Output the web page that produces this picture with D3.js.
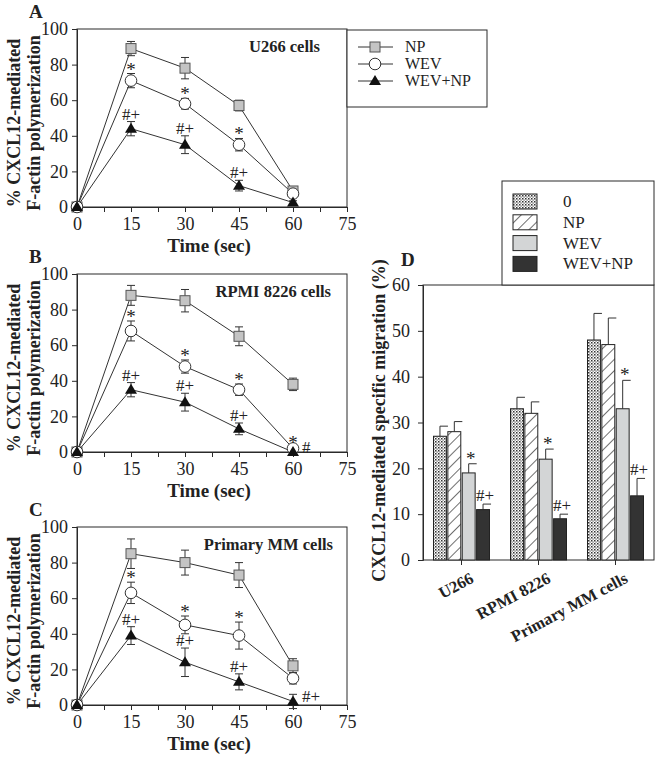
<!DOCTYPE html>
<html><head><meta charset="utf-8">
<script src="https://cdn.jsdelivr.net/npm/d3@7"></script>
<style>
html,body{margin:0;padding:0;background:#fff;}
svg{display:block;font-family:"Liberation Serif","Times New Roman",serif;}
</style></head>
<body>
<svg id="c" width="659" height="759"></svg>
<script>
// ---------- DATA ----------
const times = [0, 15, 30, 45, 60];
const timeTicks = [0, 7.5, 15, 22.5, 30, 37.5, 45, 52.5, 60, 67.5, 75];
const polyTicks = [0, 20, 40, 60, 80, 100];
const lineSeries = ["NP", "WEV", "WEV+NP"];

const u266NP = [0, 89, 78, 57, 9];
const u266NPErr = [0, 4, 6, 3, 2];
const u266WEV = [0, 71, 58, 35, 7.5];
const u266WEVErr = [0, 4, 3, 3.5, 2];
const u266WEVNP = [0, 44, 35, 12, 2.5];
const u266WEVNPErr = [0, 4, 5, 3, 1];

const rpmiNP = [0, 88, 85, 65, 38];
const rpmiNPErr = [0, 5.6, 6.3, 5.3, 3.5];
const rpmiWEV = [0, 68, 48, 35, 2];
const rpmiWEVErr = [0, 5.6, 3.7, 3.2, 1];
const rpmiWEVNP = [0, 35, 28, 13, 0];
const rpmiWEVNPErr = [0, 4, 5, 3.3, 0];

const mmNP = [0, 85, 80, 73, 22];
const mmNPErr = [0, 8.3, 7, 7, 4];
const mmWEV = [0, 63, 45, 39, 15];
const mmWEVErr = [0, 6, 5, 7.6, 3.2];
const mmWEVNP = [0, 39, 24, 13, 2];
const mmWEVNPErr = [0, 5, 8, 4.5, 4];

// significance marks: [seriesIndex, timeIndex, text, position]
const u266Marks = [[1,1,"*","top"],[1,2,"*","top"],[1,3,"*","top"],[2,1,"#+","top"],[2,2,"#+","top"],[2,3,"#+","top"]];
const rpmiMarks = [[1,1,"*","top"],[1,2,"*","top"],[1,3,"*","top"],[1,4,"*","top"],[2,1,"#+","top"],[2,2,"#+","top"],[2,3,"#+","top"],[2,4,"#","right"]];
const mmMarks = [[1,1,"*","top"],[1,2,"*","top"],[1,3,"*","top"],[2,1,"#+","top"],[2,2,"#+","top"],[2,3,"#+","top"],[2,4,"#+","right"]];

const cellLines = ["U266", "RPMI 8226", "Primary MM cells"];
const treatments = ["0", "NP", "WEV", "WEV+NP"];
const migration0 = [27, 33, 48];
const migration0Err = [2.2, 2.5, 5.8];
const migrationNP = [28, 32, 47];
const migrationNPErr = [2.2, 2.5, 5.8];
const migrationWEV = [19, 22, 33];
const migrationWEVErr = [2, 2.2, 6.2];
const migrationWEVNP = [11, 9, 14];
const migrationWEVNPErr = [1.2, 1, 3.8];
const migrationTicks = [0, 10, 20, 30, 40, 50, 60];
const migrationMarks = [[2, "*"], [3, "#+"]];

// ---------- DRAW ----------
const svg = d3.select("#c");
const defs = svg.append("defs");
const dots = defs.append("pattern").attr("id","dots").attr("patternUnits","userSpaceOnUse").attr("width",3).attr("height",3);
dots.append("rect").attr("width",3).attr("height",3).attr("fill","#fff");
dots.append("rect").attr("x",0).attr("y",0).attr("width",1.5).attr("height",1.5).attr("fill","#333");
dots.append("rect").attr("x",1.5).attr("y",1.5).attr("width",1.2).attr("height",1.2).attr("fill","#555");
const hatch = defs.append("pattern").attr("id","hatch").attr("patternUnits","userSpaceOnUse").attr("width",8).attr("height",8)
  .attr("patternTransform","rotate(45)");
hatch.append("rect").attr("width",8).attr("height",8).attr("fill","#fff");
hatch.append("line").attr("x1",0).attr("y1",0).attr("x2",0).attr("y2",8).attr("stroke","#222").attr("stroke-width",1.3);

const ink = "#2a2a2a";
const txt = "#222";

function styleAxis(g){
  g.selectAll("path").attr("stroke", ink).attr("stroke-width",1);
  g.selectAll("line").attr("stroke", ink).attr("stroke-width",1);
  g.selectAll("text").attr("fill",txt).style("font-family","'Liberation Serif',serif");
}

const markerDraw = {
  "NP": (g,x,y)=> g.append("rect").attr("x",x-5).attr("y",y-5).attr("width",10).attr("height",10).attr("fill","#c4c4c4").attr("stroke","#555").attr("stroke-width",1),
  "WEV": (g,x,y)=> g.append("circle").attr("cx",x).attr("cy",y).attr("r",5.8).attr("fill","#fff").attr("stroke","#333").attr("stroke-width",1),
  "WEV+NP": (g,x,y)=> g.append("path").attr("d",`M${x},${y-6}L${x+6},${y+4}L${x-6},${y+4}Z`).attr("fill","#111")
};

function linePanel(cfg){
  const {top, letter, title, vals, errs, marks} = cfg;
  const left = 77, right = 347, height = 178;
  const x = d3.scaleLinear().domain([0,75]).range([left,right]);
  const y = d3.scaleLinear().domain([0,100]).range([top+height, top]);
  const g = svg.append("g");
  g.append("rect").attr("x",left).attr("y",top).attr("width",right-left).attr("height",height)
    .attr("fill","none").attr("stroke",ink).attr("stroke-width",1);
  const ax = g.append("g").attr("transform",`translate(0,${top+height})`)
    .call(d3.axisBottom(x).tickValues(timeTicks).tickSize(5).tickPadding(5)
      .tickFormat(d => d % 15 === 0 ? d : ""));
  ax.selectAll("text").attr("font-size",18);
  styleAxis(ax);
  const ay = g.append("g").attr("transform",`translate(${left},0)`)
    .call(d3.axisLeft(y).tickValues(polyTicks).tickSize(5).tickPadding(4));
  ay.selectAll("text").attr("font-size",18);
  styleAxis(ay);
  g.append("text").attr("x",(left+right)/2 - 3).attr("y",top+height+45).attr("text-anchor","middle")
    .attr("font-weight","bold").attr("font-size",19).attr("fill",txt).text("Time (sec)");
  const cy = top + height/2 + 5;
  g.append("text").attr("transform",`translate(20,${cy}) rotate(-90)`).attr("text-anchor","middle")
    .attr("font-weight","bold").attr("font-size",18).attr("fill",txt).text("% CXCL12-mediated");
  g.append("text").attr("transform",`translate(40,${cy}) rotate(-90)`).attr("text-anchor","middle")
    .attr("font-weight","bold").attr("font-size",18).attr("fill",txt).text("F-actin polymerization");
  g.append("text").attr("x",cfg.letterX).attr("y",top-11).attr("font-weight","bold").attr("font-size",19).attr("fill",txt).text(letter);
  g.append("text").attr("x",cfg.titleX).attr("y",top+23).attr("text-anchor","end").attr("font-weight","bold")
    .attr("font-size",16.5).attr("fill",txt).text(title);
  const line = d3.line().x((d,i)=>x(times[i])).y(d=>y(d));
  lineSeries.forEach((s,si)=>{
    g.append("path").datum(vals[si]).attr("d",line).attr("fill","none").attr("stroke","#333").attr("stroke-width",1);
  });
  lineSeries.forEach((s,si)=>{
    vals[si].forEach((v,i)=>{
      const e = errs[si][i];
      if(e>0){
        const xx = x(times[i]);
        g.append("line").attr("x1",xx).attr("x2",xx).attr("y1",y(v+e)).attr("y2",y(v-e)).attr("stroke","#333");
        [v+e, v-e].forEach(t=> g.append("line").attr("x1",xx-4).attr("x2",xx+4).attr("y1",y(t)).attr("y2",y(t)).attr("stroke","#333"));
      }
    });
  });
  lineSeries.forEach((s,si)=>{
    vals[si].forEach((v,i)=> markerDraw[s](g, x(times[i]), y(v)));
  });
  marks.forEach(([si,ti,t,pos])=>{
    const v = vals[si][ti], e = errs[si][ti];
    if(pos==="top"){
      const base = t==="*" ? y(v+e)+2 : y(v+e)-2;
      g.append("text").attr("x",x(times[ti])).attr("y",base).attr("text-anchor","middle")
        .attr("font-size", t==="*" ? 19 : 17).attr("fill",txt).text(t);
    } else {
      g.append("text").attr("x",x(times[ti])+9).attr("y",y(v)+1).attr("text-anchor","start")
        .attr("font-size",17).attr("fill",txt).text(t);
    }
  });
}

linePanel({top:29, letter:"A", letterX:29, title:"U266 cells", titleX:320,
  vals:[u266NP,u266WEV,u266WEVNP], errs:[u266NPErr,u266WEVErr,u266WEVNPErr], marks:u266Marks});
linePanel({top:274, letter:"B", letterX:29, title:"RPMI 8226 cells", titleX:331,
  vals:[rpmiNP,rpmiWEV,rpmiWEVNP], errs:[rpmiNPErr,rpmiWEVErr,rpmiWEVNPErr], marks:rpmiMarks});
linePanel({top:527, letter:"C", letterX:29, title:"Primary MM cells", titleX:333,
  vals:[mmNP,mmWEV,mmWEVNP], errs:[mmNPErr,mmWEVErr,mmWEVNPErr], marks:mmMarks});

// legend A
{
  const g = svg.append("g");
  g.append("rect").attr("x",347).attr("y",30).attr("width",140).attr("height",77).attr("fill","#fff").attr("stroke",ink);
  lineSeries.forEach((s,i)=>{
    const yy = 47 + i*17;
    g.append("line").attr("x1",358).attr("x2",393).attr("y1",yy).attr("y2",yy).attr("stroke","#333");
    markerDraw[s](g,375,yy);
    g.append("text").attr("x",405).attr("y",yy+5).attr("font-size",16).attr("fill",txt).text(s);
  });
}

// Panel D
{
  const left = 423, right = 654, top = 285, bottom = 560;
  const x0 = d3.scaleBand().domain(cellLines).range([left,right]);
  const x1 = d3.scaleBand().domain(treatments).range([0,56]).paddingInner(0.1);
  const y = d3.scaleLinear().domain([0,60]).range([bottom, top]);
  const g = svg.append("g");
  const vals = [migration0, migrationNP, migrationWEV, migrationWEVNP];
  const errs = [migration0Err, migrationNPErr, migrationWEVErr, migrationWEVNPErr];
  const fills = ["url(#dots)", "url(#hatch)", "#d3d5d6", "#333333"];
  g.append("rect").attr("x",left).attr("y",top).attr("width",right-left).attr("height",bottom-top)
    .attr("fill","none").attr("stroke",ink);
  cellLines.forEach((c,ci)=>{
    const gx = x0(c) + x0.bandwidth()/2 - 28;
    treatments.forEach((t,ti)=>{
      const v = vals[ti][ci], e = errs[ti][ci];
      const bx = gx + x1(t), bw = x1.bandwidth();
      const cx = bx + bw/2;
      g.append("line").attr("x1",cx).attr("x2",cx).attr("y1",y(v)).attr("y2",y(v+e)).attr("stroke","#333");
      g.append("line").attr("x1",cx).attr("x2",cx+8).attr("y1",y(v+e)).attr("y2",y(v+e)).attr("stroke","#333");
      g.append("rect").attr("x",bx).attr("y",y(v)).attr("width",bw).attr("height",bottom-y(v))
        .attr("fill",fills[ti]).attr("stroke","#222").attr("stroke-width",1);
    });
    migrationMarks.forEach(([ti,t])=>{
      const tr = treatments[ti];
      const cx = gx + x1(tr) + x1.bandwidth()/2;
      const top2 = y(vals[ti][ci] + errs[ti][ci]);
      g.append("text").attr("x",cx+2).attr("y", t==="*" ? top2+1 : top2-3).attr("text-anchor","middle")
        .attr("font-size", t==="*" ? 19 : 17).attr("fill",txt).text(t);
    });
  });
  const ax = g.append("g").attr("transform",`translate(0,${bottom})`)
    .call(d3.axisBottom(x0).tickSize(5).tickPadding(3));
  styleAxis(ax);
  ax.select(".domain").remove();
  ax.selectAll("text").attr("font-size",16.5).attr("font-weight","bold").attr("text-anchor","end")
    .attr("transform","translate(5,6) rotate(-28)").attr("dy","0.6em");
  const ay = g.append("g").attr("transform",`translate(${left},0)`)
    .call(d3.axisLeft(y).tickValues(migrationTicks).tickSize(5).tickPadding(8));
  ay.selectAll("text").attr("font-size",18);
  styleAxis(ay);
  g.append("text").attr("transform",`translate(385,${(top+bottom)/2 - 2}) rotate(-90)`).attr("text-anchor","middle")
    .attr("font-weight","bold").attr("font-size",18).attr("fill",txt).text("CXCL12-mediated specific migration (%)");
  g.append("text").attr("x",401).attr("y",266).attr("font-weight","bold").attr("font-size",19).attr("fill",txt).text("D");
  const lg = svg.append("g");
  lg.append("rect").attr("x",502).attr("y",181).attr("width",152).attr("height",104).attr("fill","#fff").attr("stroke",ink);
  treatments.forEach((t,ti)=>{
    const yy = 202 + ti*20.8;
    lg.append("rect").attr("x",513).attr("y",yy-8).attr("width",24).attr("height",15)
      .attr("fill",fills[ti]).attr("stroke","#222");
    lg.append("text").attr("x",563).attr("y",yy+5).attr("font-size",17).attr("fill",txt).text(t);
  });
}
</script>
</body></html>
